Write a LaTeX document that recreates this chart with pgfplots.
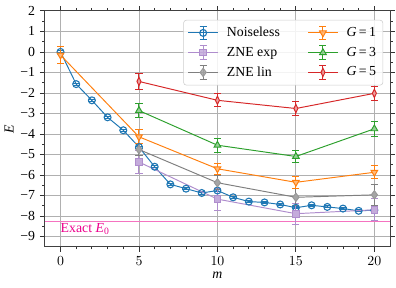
\documentclass[border=0pt]{standalone}
\usepackage{pgfplots}
\pgfplotsset{compat=1.18}
\usepackage{fontspec}
\setmainfont{Liberation Serif}
\definecolor{cblue}{HTML}{1F77B4}
\definecolor{corange}{HTML}{FF7F0E}
\definecolor{cgreen}{HTML}{2CA02C}
\definecolor{cred}{HTML}{D62728}
\definecolor{cpurple}{HTML}{9467BD}
\definecolor{cgray}{HTML}{7F7F7F}
\definecolor{gridc}{HTML}{B0B0B0}
\pgfplotsset{
  errlegend/.style={legend image code/.code={
    \draw[##1,mark=none,solid,line width=0.7pt] (0.38cm,-0.17cm) -- (0.38cm,0.17cm)
        (0.29cm,-0.17cm) -- (0.47cm,-0.17cm) (0.29cm,0.17cm) -- (0.47cm,0.17cm);
    \draw[mark repeat=2,mark phase=2,##1] plot coordinates {(0cm,0cm) (0.38cm,0cm) (0.76cm,0cm)};
  }},
  ebar/.style={error bars/.cd, y dir=both, y explicit,
    error bar style={line width=0.7pt,solid},
    error mark options={rotate=90, mark size=2.6pt, line width=0.7pt}, /pgfplots/.cd},
}
\begin{document}
\begin{tikzpicture}
\begin{axis}[
  name=ax,
  scale only axis,
  width=249.8pt, height=170.6pt,
  xmin=-1, xmax=21, ymin=-9.5, ymax=2,
  xtick={0,5,10,15,20},
  minor x tick num=4,
  ytick={-9,-8,-7,-6,-5,-4,-3,-2,-1,0,1,2},
  yticklabels={−9,−8,−7,−6,−5,−4,−3,−2,−1,0,1,2},
  minor y tick num=1,
  tick align=outside,
  tick style={color=black!80, line width=0.6pt},
  major tick length=3.5pt, minor tick length=2pt,
  axis line style={color=black!75, line width=0.6pt},
  grid=major,
  major grid style={color=gridc, line width=0.6pt},
  xlabel={\textit{m}}, ylabel={\textit{E}},
  tick label style={font=\fontsize{10}{12}\selectfont},
  label style={font=\fontsize{10}{12}\selectfont},
  xlabel style={yshift=2pt},
  ylabel style={yshift=-2pt},
  legend columns=3,
  transpose legend,
  legend cell align=left,
  legend style={at={(1,1)}, anchor=north east, xshift=-5pt, yshift=-6.5pt,
    draw=black!20, fill=white, fill opacity=0.85, text opacity=1,
    rounded corners=2pt, font=\fontsize{10}{12}\selectfont,
    inner xsep=3pt, inner ysep=3pt, row sep=2pt,
    /tikz/every odd column/.append style={column sep=4pt},
    /tikz/every even column/.append style={column sep=18pt}},
  clip=false,
]
% exact E0
\addplot[color=magenta!55, line width=0.7pt, forget plot, mark=none] coordinates {(-1,-8.27) (21,-8.27)};
\node[anchor=north west, text=magenta, inner sep=0.5pt, font=\fontsize{10}{12}\selectfont] at (axis cs:-0.05,-8.33) {Exact \textit{E}\textsubscript{0}};

% Noiseless
\addplot[color=cblue, line width=0.7pt, mark=o, mark size=2.5pt,
  mark options={solid, fill=cblue!8, line width=0.8pt}, ebar, errlegend]
coordinates {
(0,0.0) +- (0,0.05)
(1,-1.57) +- (0,0.05)
(2,-2.36) +- (0,0.05)
(3,-3.19) +- (0,0.05)
(4,-3.82) +- (0,0.05)
(5,-4.64) +- (0,0.05)
(6,-5.60) +- (0,0.05)
(7,-6.46) +- (0,0.05)
(8,-6.67) +- (0,0.05)
(9,-6.88) +- (0,0.05)
(10,-6.76) +- (0,0.05)
(11,-7.09) +- (0,0.05)
(12,-7.30) +- (0,0.05)
(13,-7.34) +- (0,0.05)
(14,-7.44) +- (0,0.05)
(15,-7.60) +- (0,0.05)
(16,-7.48) +- (0,0.05)
(17,-7.56) +- (0,0.05)
(18,-7.64) +- (0,0.05)
(19,-7.75) +- (0,0.05)
(20,-7.72) +- (0,0.05)
};
\addlegendentry{Noiseless}

% ZNE exp
\addplot[color=cpurple!75, line width=0.7pt, mark=square*, mark size=2.4pt,
  mark options={solid, fill=cpurple!55, draw=cpurple!75}, ebar, errlegend]
coordinates {
(5,-5.37) +- (0,0.56)
(10,-7.18) +- (0,0.53)
(15,-7.89) +- (0,0.52)
(20,-7.70) +- (0,0.54)
};
\addlegendentry{ZNE exp}

% ZNE lin
\addplot[color=cgray, line width=0.7pt, mark=diamond*, mark size=3pt,
  mark options={solid, fill=cgray!70, draw=cgray!80}, ebar, errlegend]
coordinates {
(5,-4.76) +- (0,0.3)
(10,-6.38) +- (0,0.35)
(15,-7.09) +- (0,0.42)
(20,-6.97) +- (0,0.5)
};
\addlegendentry{ZNE lin}

% G=1
\addplot[color=corange, line width=0.7pt, mark=triangle*, mark size=2.8pt,
  mark options={solid, rotate=180, fill=corange!55, draw=corange}, ebar, errlegend]
coordinates {
(0,-0.15) +- (0,0.43)
(5,-4.14) +- (0,0.35)
(10,-5.70) +- (0,0.28)
(15,-6.36) +- (0,0.28)
(20,-5.87) +- (0,0.32)
};
\addlegendentry{\textit{G}\,=\,1}

% G=3
\addplot[color=cgreen, line width=0.7pt, mark=triangle*, mark size=2.8pt,
  mark options={solid, fill=cgreen!50, draw=cgreen}, ebar, errlegend]
coordinates {
(5,-2.86) +- (0,0.35)
(10,-4.55) +- (0,0.35)
(15,-5.10) +- (0,0.31)
(20,-3.75) +- (0,0.35)
};
\addlegendentry{\textit{G}\,=\,3}

% G=5
\addplot[color=cred, line width=0.7pt, mark=diamond*, mark size=3pt,
  mark options={solid, xscale=0.65, fill=cred!45, draw=cred}, ebar, errlegend]
coordinates {
(5,-1.44) +- (0,0.37)
(10,-2.36) +- (0,0.32)
(15,-2.76) +- (0,0.35)
(20,-2.02) +- (0,0.34)
};
\addlegendentry{\textit{G}\,=\,5}
\end{axis}
\path ([shift={(-31pt,-29.5pt)}]ax.south west) rectangle ([shift={(4.3pt,7.9pt)}]ax.north east);
\end{tikzpicture}
\end{document}
